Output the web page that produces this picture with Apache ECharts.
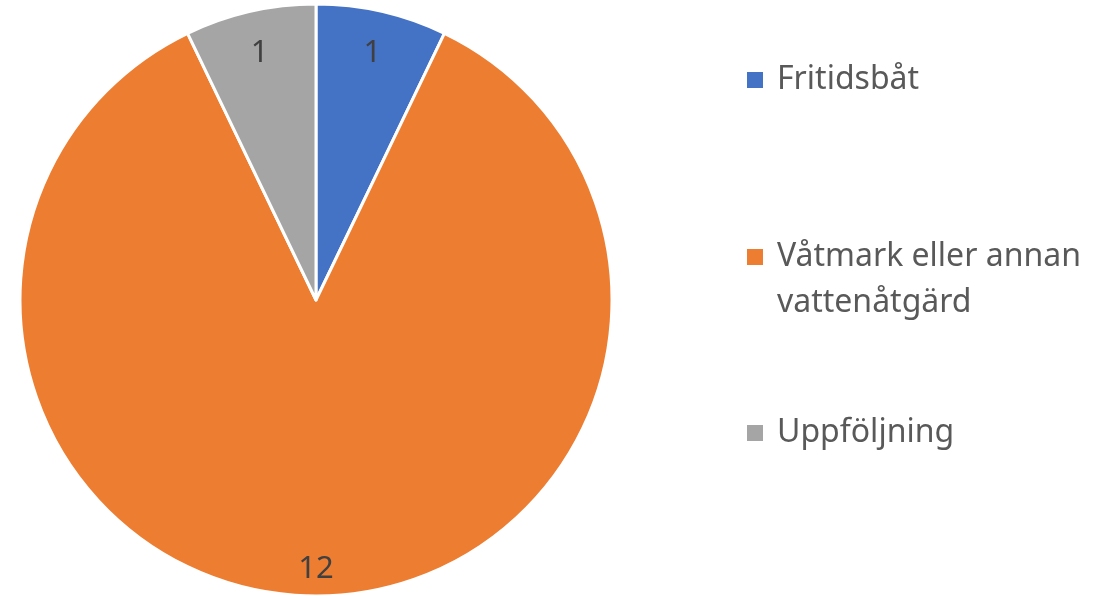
<!DOCTYPE html>
<html>
<head>
<meta charset="utf-8">
<script src="https://cdn.jsdelivr.net/npm/echarts@6/dist/echarts.min.js"></script>
<style>
html,body{margin:0;padding:0;background:#fff;}
#c{width:1107px;height:596px;}
</style>
</head>
<body>
<div id="c"></div>
<script>
const categories = ['Fritidsbåt', 'Våtmark eller annan vattenåtgärd', 'Uppföljning'];
const values = [1, 12, 1];
const colors = ['#4472C4', '#ED7D31', '#A5A5A5'];
const legendLabels = ['Fritidsbåt', 'Våtmark eller annan\nvattenåtgärd', 'Uppföljning'];

const FONT = '"Noto Sans", sans-serif';
const chart = echarts.init(document.getElementById('c'), null, {renderer: 'canvas'});

const data = categories.map((n, i) => ({name: n, value: values[i], itemStyle: {color: colors[i]}}));
const labelData = categories.map((n, i) => ({
  name: n, value: values[i],
  label: values[i] > 5 ? {offset: [0, 16]} : {}
}));

const center = [316, 300];
const R = 296;

const legendTops = [57, 234, 410];
const legends = categories.map((n, i) => ({
  data: [n],
  orient: 'vertical',
  left: 747,
  top: legendTops[i],
  padding: 0,
  itemWidth: 16,
  itemHeight: i === 1 ? 62 : 16,
  icon: i === 1 ? 'path://M0,0L16,0L16,16L0,16Z M0,62L0.01,62Z' : 'rect',
  symbolKeepAspect: false,
  itemStyle: {borderWidth: 0},
  selectedMode: false,
  formatter: (name) => legendLabels[categories.indexOf(name)],
  textStyle: {fontFamily: FONT, fontSize: 32, color: '#595959', lineHeight: 46, padding: [0, 0, 0, 9]}
}));

chart.setOption({
  animation: false,
  legend: legends,
  series: [
    {
      type: 'pie',
      center: center,
      radius: [0, R],
      startAngle: 90,
      clockwise: true,
      data: data,
      label: {show: false},
      labelLine: {show: false},
      itemStyle: {borderColor: '#ffffff', borderWidth: 3},
      emphasis: {disabled: true}
    },
    {
      type: 'pie',
      center: center,
      radius: [220, 280],
      startAngle: 90,
      clockwise: true,
      silent: true,
      legendHoverLink: false,
      data: labelData,
      itemStyle: {color: 'rgba(0,0,0,0)', borderWidth: 0},
      label: {show: true, position: 'inside', formatter: '{c}', fontFamily: FONT, fontSize: 31, color: '#404040'},
      labelLine: {show: false},
      emphasis: {disabled: true}
    }
  ]
});
</script>
</body>
</html>
